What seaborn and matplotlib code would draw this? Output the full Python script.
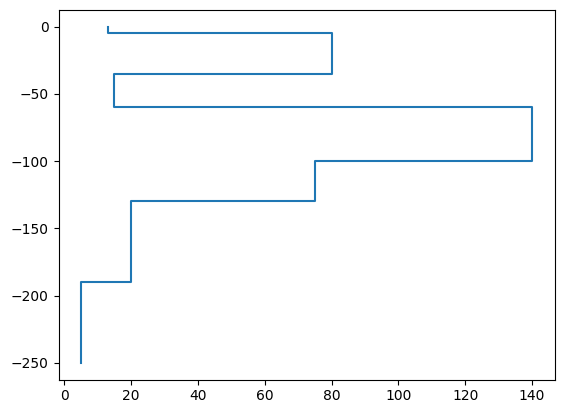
import matplotlib.pyplot as plt
import pandas as pd
import seaborn as sns

# Step profile: value held over each depth interval
values = [13, 80, 15, 140, 75, 20, 5, 5]
depths = [0, -5, -35, -60, -100, -130, -190, -250]

df = pd.DataFrame({'value': values, 'depth': depths})

fig = plt.figure(figsize=(5.63, 4.13), dpi=100)
ax = fig.add_axes([0.104, 0.081, 0.881, 0.895])
sns.lineplot(data=df, x='value', y='depth', ax=ax,
             sort=False, estimator=None, drawstyle='steps-pre',
             color='tab:blue', linewidth=1.5)
ax.set_xlabel('')
ax.set_ylabel('')

fig.savefig('out.png', dpi=100)
